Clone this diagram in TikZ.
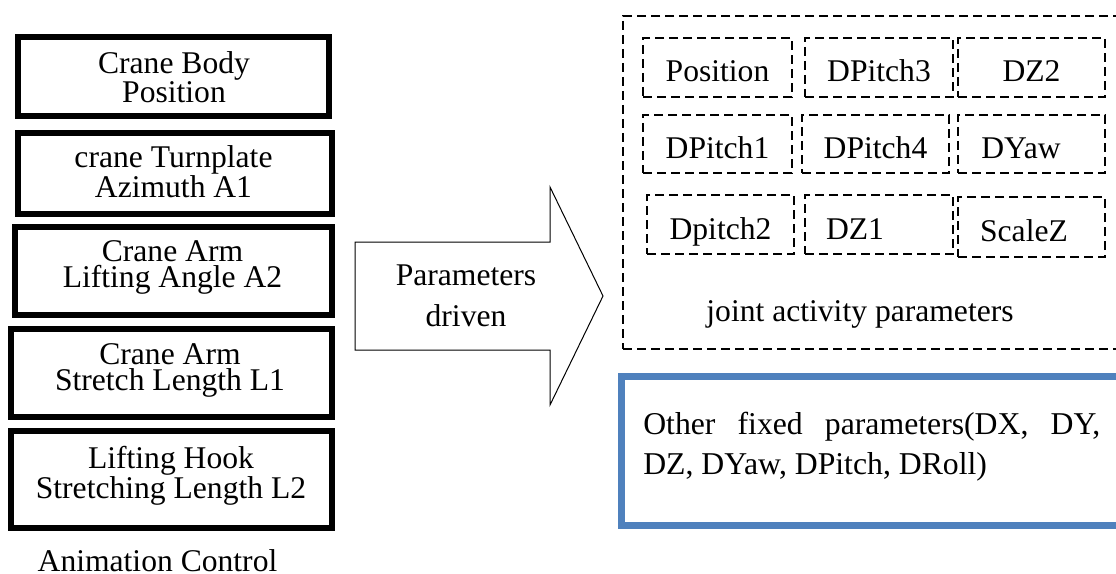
\documentclass[tikz,border=0pt]{standalone}
\usepackage{fontspec}
\setmainfont{Liberation Serif}
\definecolor{blueframe}{RGB}{79,129,189}
\begin{document}
\begin{tikzpicture}[x=0.75pt,y=-0.75pt,
  leftbox/.style={draw, line width=4.5pt, inner sep=0pt},
  bigfont/.style={font=\fontsize{23.7pt}{19.5pt}\selectfont},
  lefttext/.style={bigfont, align=center, inner sep=0pt, anchor=north},
  dashpat/.style={draw, dash pattern=on 6.75pt off 3.75pt, line width=1.5pt},
  pbox/.style={dashpat, bigfont, inner sep=0pt, text height=21.75pt, text depth=0pt, minimum height=44.25pt},
  plain/.style={inner sep=0pt},
]
\useasboundingbox (0,0) rectangle (1116,574);
\clip (0,0) rectangle (1116,574);

% left column
\node[leftbox, minimum width=233.25pt, minimum height=59.25pt] (b1) at (173.5,76.5) {};
\node[lefttext] (b1t) at (174,51) {Crane Body\\Position};
\node[leftbox, minimum width=235.5pt, minimum height=60.75pt] (b2) at (175,173.5) {};
\node[lefttext] (b2t) at (173.5,145) {crane Turnplate\\Azimuth A1};
\node[leftbox, minimum width=237.75pt, minimum height=66pt] (b3) at (173.5,271) {};
\node[lefttext] (b3t) at (172.5,240) {Crane Arm\\Lifting Angle A2};
\node[leftbox, minimum width=240.75pt, minimum height=66pt] (b4) at (171.5,373) {};
\node[lefttext] (b4t) at (170,343) {Crane Arm\\Stretch Length L1};
\node[leftbox, minimum width=240.75pt, minimum height=72.75pt] (b5) at (171.5,479.5) {};
\node[lefttext] (b5t) at (171,446) {Lifting Hook\\Stretching Length L2};
\node[plain, bigfont, anchor=base] (anim) at (157.5,571) {Animation Control};

% big arrow
\draw[line width=0.75pt] (355,242) -- (550,242) -- (550,187) -- (603,296)
  -- (550,405) -- (550,350) -- (355,350) -- cycle;
\node[plain, anchor=north, align=center, font=\fontsize{23.7pt}{30.75pt}\selectfont] (arrowt) at (466,265) {Parameters\\driven};

% joint activity parameters
\node[dashpat, minimum width=387.75pt, minimum height=249.75pt] (joint) at (881.5,182.5) {};
\node[pbox, minimum width=111.75pt] (r1a) at (717.5,67.5) {Position};
\node[pbox, minimum width=111pt] (r1b) at (879,67.5) {DPitch3};
\node[pbox, minimum width=110.25pt] (r1c) at (1031.5,67.5) {DZ2};
\node[pbox, minimum width=111.75pt, minimum height=43.5pt] (r2a) at (717.5,144) {DPitch1};
\node[pbox, minimum width=110.25pt, minimum height=43.5pt] (r2b) at (875.5,144) {DPitch4};
\node[pbox, minimum width=110.25pt, minimum height=43.5pt] (r2c) at (1031.5,144) {DYaw\hspace*{15.75pt}};
\node[pbox, minimum width=110.25pt] (r3a) at (720.5,224.5) {Dpitch2};
\node[pbox, minimum width=111pt] (r3b) at (879,224.5) {DZ1\hspace*{36pt}};
\node[pbox, minimum width=110.25pt, minimum height=45pt] (r3c) at (1031.5,227) {ScaleZ\hspace*{11.25pt}};
\node[plain, bigfont, anchor=base] (jointt) at (860,321) {joint activity parameters};

% fixed parameters
\node[draw=blueframe, line width=5.25pt, minimum width=388.9pt, minimum height=111.75pt] (fixed) at (880.75,450.5) {};
\node[plain, anchor=north west, align=left, font=\fontsize{23.8pt}{30pt}\selectfont] (fixedt) at (643,412)
  {\makebox[342.75pt][s]{Other fixed parameters(DX, DY,}\\DZ, DYaw, DPitch, DRoll)};
\end{tikzpicture}
\end{document}
